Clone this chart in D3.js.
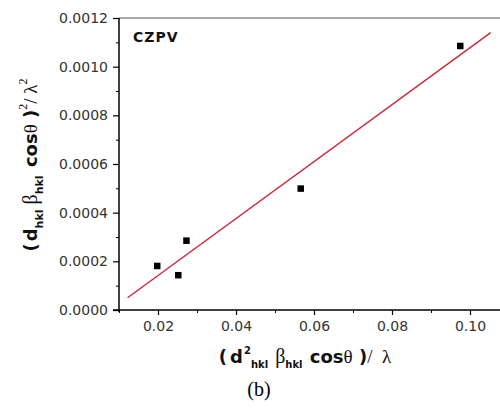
<!DOCTYPE html>
<html><head><meta charset="utf-8">
<script src="https://cdn.jsdelivr.net/npm/d3@7"></script>
<style>body{margin:0;background:#fff}svg{display:block}text.rich{white-space:pre}</style>
</head><body>
<div id="chart"></div>
<script>
// data
const xValues = [0.0198, 0.0252, 0.0273, 0.0566, 0.0975];
const yValues = [0.000181, 0.000143, 0.000285, 0.000499, 0.001085];
const fitX = [0.0122, 0.1053];
const fitY = [0.0000505, 0.00114];
const xTicks = [0.02, 0.04, 0.06, 0.08, 0.10];
const xMinorTicks = [0.01, 0.03, 0.05, 0.07, 0.09, 0.11];
const yTicks = [0, 0.0002, 0.0004, 0.0006, 0.0008, 0.0010, 0.0012];
const yMinorTicks = [0.0001, 0.0003, 0.0005, 0.0007, 0.0009, 0.0011];

const W = 500, H = 408;
const L = 119, T = 18, B = 310, R = 509;
const svg = d3.select('#chart').append('svg').attr('width', W).attr('height', H);
const x = d3.scaleLinear().domain([0.01, 0.11]).range([L, R]);
const y = d3.scaleLinear().domain([0, 0.0012]).range([B, T]);

const sans = "'DejaVu Sans', Verdana, sans-serif";
const serif = "'Liberation Serif', 'Times New Roman', serif";

// top border
svg.append('line').attr('x1', L).attr('x2', R).attr('y1', T).attr('y2', T)
  .attr('stroke', '#555').attr('stroke-width', 1.2);

// x axis
const xAxis = d3.axisBottom(x).tickValues(xTicks).tickSize(5).tickPadding(6)
  .tickFormat(d3.format('.2f'));
const gx = svg.append('g').attr('transform', `translate(0,${B})`).call(xAxis);
gx.select('.domain').remove();
gx.append('line').attr('x1', L - 6).attr('x2', R).attr('stroke', '#000').attr('stroke-width', 1.5);
gx.selectAll('.tick line').attr('stroke', '#000').attr('stroke-width', 1.2);
gx.selectAll('.tick text').attr('font-family', sans).attr('font-size', 14).attr('fill', '#333');
const gxm = svg.append('g').attr('transform', `translate(0,${B})`)
  .call(d3.axisBottom(x).tickValues(xMinorTicks).tickSize(3).tickFormat(''));
gxm.select('.domain').remove();
gxm.selectAll('.tick line').attr('stroke', '#000').attr('stroke-width', 1);

// y axis
const yAxis = d3.axisLeft(y).tickValues(yTicks).tickSize(6).tickPadding(5)
  .tickFormat(d3.format('.4f'));
const gy = svg.append('g').attr('transform', `translate(${L},0)`).call(yAxis);
gy.select('.domain').remove();
gy.append('line').attr('y1', T).attr('y2', B + 2).attr('stroke', '#000').attr('stroke-width', 1.5);
gy.selectAll('.tick line').attr('stroke', '#000').attr('stroke-width', 1.2);
gy.selectAll('.tick text').attr('font-family', sans).attr('font-size', 14).attr('fill', '#333');
const gym = svg.append('g').attr('transform', `translate(${L},0)`)
  .call(d3.axisLeft(y).tickValues(yMinorTicks).tickSize(3).tickFormat(''));
gym.select('.domain').remove();
gym.selectAll('.tick line').attr('stroke', '#000').attr('stroke-width', 1);

// fit line
svg.append('line')
  .attr('x1', x(fitX[0])).attr('y1', y(fitY[0]))
  .attr('x2', x(fitX[1])).attr('y2', y(fitY[1]))
  .attr('stroke', '#d0243a').attr('stroke-width', 1.4);

// points
const s = 6.5;
svg.selectAll('rect.pt').data(xValues).enter().append('rect').attr('class', 'pt')
  .attr('x', (d) => x(d) - s / 2).attr('y', (d, i) => y(yValues[i]) - s / 2)
  .attr('width', s).attr('height', s).attr('fill', '#000');

// CZPV label
svg.append('text').attr('x', 133).attr('y', 42).attr('font-family', sans)
  .attr('font-weight', 'bold').attr('font-size', 14).attr('letter-spacing', 1)
  .attr('fill', '#111').text('CZPV');

// helper for rich text
function rich(t, parts) {
  parts.forEach(p => {
    const ts = t.append('tspan').text(p.t)
      .attr('font-family', p.serif ? serif : sans)
      .attr('font-weight', p.serif ? 'normal' : (p.b ? 'bold' : 'normal'))
      .attr('font-size', p.fs);
    if (p.dy) ts.attr('dy', p.dy);
    if (p.dx) ts.attr('dx', p.dx);
  });
}

// x label
const xl = svg.append('text').attr('class', 'rich').attr('x', 305).attr('y', 363)
  .attr('text-anchor', 'middle').attr('fill', '#111');
rich(xl, [
  {t: '(', b: true, fs: 18},
  {t: 'd', b: true, fs: 18, dx: 3},
  {t: '2', b: true, fs: 10, dy: -9, dx: 1},
  {t: 'hkl', b: true, fs: 10, dy: 14},
  {t: ' \u03B2', serif: true, fs: 20, dy: -5, dx: 2},
  {t: 'hkl', b: true, fs: 10, dy: 5},
  {t: ' cos', b: true, fs: 18, dy: -5, dx: 1},
  {t: '\u03B8', serif: true, fs: 19},
  {t: ' )', b: true, fs: 18},
  {t: '/  \u03BB', serif: true, fs: 19}
]);

// y label
const yl = svg.append('text').attr('class', 'rich').attr('transform', 'translate(37,165) rotate(-90)')
  .attr('text-anchor', 'middle').attr('fill', '#111');
rich(yl, [
  {t: '(', b: true, fs: 18},
  {t: 'd', b: true, fs: 18, dx: 2},
  {t: 'hkl', b: true, fs: 11, dy: 6},
  {t: ' \u03B2', serif: true, fs: 20, dy: -6},
  {t: 'hkl', b: true, fs: 11, dy: 6},
  {t: ' cos', b: true, fs: 18, dy: -6, dx: 2},
  {t: '\u03B8', serif: true, fs: 19},
  {t: ' )', b: true, fs: 18},
  {t: '2', serif: true, fs: 12, dy: -10},
  {t: '/ \u03BB', serif: true, fs: 19, dy: 10},
  {t: '2', serif: true, fs: 12, dy: -10}
]);

// (b)
svg.append('text').attr('x', 259).attr('y', 396).attr('text-anchor', 'middle')
  .attr('font-family', serif).attr('font-size', 20).attr('fill', '#000').text('(b)');
</script>
</body></html>
